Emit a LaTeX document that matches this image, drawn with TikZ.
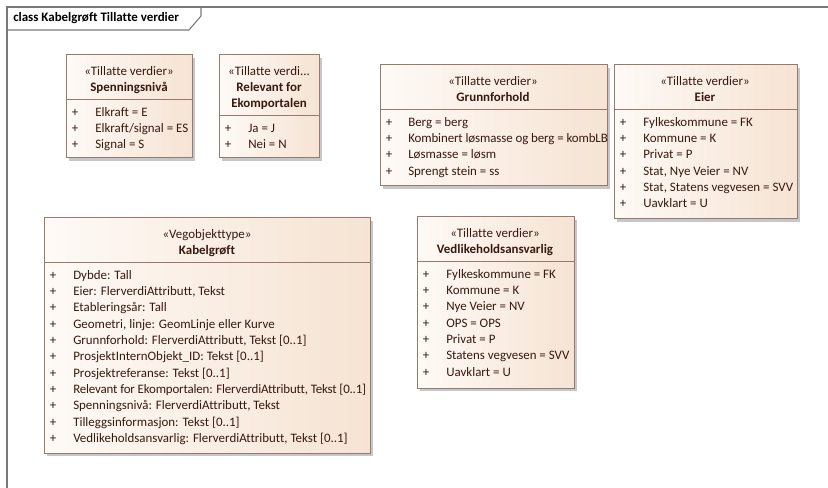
\documentclass[tikz,border=0pt]{standalone}
\usepackage{fontspec}
\setmainfont{Carlito}[Ligatures=NoCommon]
\usetikzlibrary{fit,shadows}
\definecolor{frameline}{RGB}{120,120,120}
\definecolor{boxline}{RGB}{150,122,112}
\definecolor{fillL}{RGB}{254,250,246}
\definecolor{fillR}{RGB}{246,227,211}
\definecolor{txt}{RGB}{55,25,15}
\tikzset{
  x=0.75pt, y=-0.75pt,
  framestroke/.style={draw=frameline, line width=1.1pt},
  tabstroke/.style={draw=frameline, line width=0.8pt},
  cls/.style={draw=boxline, line width=0.75pt, left color=fillL, right color=fillR,
    inner sep=0pt, drop shadow={shadow xshift=2.2pt, shadow yshift=-2.2pt, fill=black, opacity=0.22}},
  divline/.style={draw=boxline, line width=0.75pt},
  basetxt/.style={inner sep=0pt, text=txt, font=\fontsize{9.7}{12}\selectfont, text height=7pt, text depth=2pt},
  stereo/.style={basetxt},
  cname/.style={basetxt, font=\fontsize{9.7}{12}\selectfont\bfseries},
  mem/.style={basetxt, anchor=west},
  plussign/.style={basetxt},
  ttl/.style={inner sep=0pt, anchor=west, text=black, font=\fontsize{9.7}{12}\selectfont\bfseries}
}
\begin{document}
\begin{tikzpicture}
\useasboundingbox (0,0) rectangle (828,488);
% frame
\draw[framestroke] (7,488) -- (7,7) -- (828,7);
\draw[tabstroke] (7,30) -- (189,30) -- (201,16) -- (201,7);
\node[ttl] (title) at (13,18.5) {class Kabelgrøft Tillatte verdier};

% Spenningsnivå
\node[cls, fit={(66,55) (192,158)}] (spn) {};
\draw[divline] (spn.west |- 0,100) -- (spn.east |- 0,100);
\node[stereo] (spn-st) at (129,72) {«Tillatte verdier»};
\node[cname] (spn-nm) at (129,88) {Spenningsnivå};
\foreach \t [count=\i from 0] in {Elkraft = E, Elkraft/signal = ES, Signal = S}{
  \node[plussign] (spn-p\i) at (75,113+16.3*\i) {+};
  \node[mem] (spn-m\i) at (95,113+16.3*\i) {\t};
}

% Relevant for Ekomportalen
\node[cls, fit={(219,55) (319,158)}] (rel) {};
\draw[divline] (rel.west |- 0,116) -- (rel.east |- 0,116);
\node[stereo] (rel-st) at (269,72) {«Tillatte verdi...};
\node[cname] (rel-nm1) at (269,88) {Relevant for};
\node[cname] (rel-nm2) at (269,104) {Ekomportalen};
\foreach \t [count=\i from 0] in {Ja = J, Nei = N}{
  \node[plussign] (rel-p\i) at (228,129+16.3*\i) {+};
  \node[mem] (rel-m\i) at (248,129+16.3*\i) {\t};
}

% Grunnforhold
\node[cls, fit={(380,65) (607,186)}] (grf) {};
\draw[divline] (grf.west |- 0,110) -- (grf.east |- 0,110);
\node[stereo] (grf-st) at (493,82) {«Tillatte verdier»};
\node[cname] (grf-nm) at (493,98) {Grunnforhold};
\foreach \t [count=\i from 0] in {Berg = berg, {\addfontfeature{LetterSpace=-0.9}Kombinert løsmasse og berg = kombLB}, Løsmasse = løsm, Sprengt stein = ss}{
  \node[plussign] (grf-p\i) at (389,123+16.3*\i) {+};
  \node[mem] (grf-m\i) at (408,123+16.3*\i) {\t};
}

% Eier
\node[cls, fit={(614,65) (797,219)}] (eier) {};
\draw[divline] (eier.west |- 0,110) -- (eier.east |- 0,110);
\node[stereo] (eier-st) at (705,82) {«Tillatte verdier»};
\node[cname] (eier-nm) at (705,98) {Eier};
\foreach \t [count=\i from 0] in {Fylkeskommune = FK, Kommune = K, Privat = P, {Stat, Nye Veier = NV}, {Stat, Statens vegvesen = SVV}, Uavklart = U}{
  \node[plussign] (eier-p\i) at (623,123+16.3*\i) {+};
  \node[mem] (eier-m\i) at (643,123+16.3*\i) {\t};
}

% Kabelgrøft
\node[cls, fit={(44,218) (370,453)}] (kab) {};
\draw[divline] (kab.west |- 0,263) -- (kab.east |- 0,263);
\node[stereo] (kab-st) at (207,235) {«Vegobjekttype»};
\node[cname] (kab-nm) at (207,251) {Kabelgrøft};
\foreach \t [count=\i from 0] in {Dybde: Tall, {Eier: FlerverdiAttributt, Tekst}, Etableringsår: Tall, {Geometri, linje: GeomLinje eller Kurve}, {Grunnforhold: FlerverdiAttributt, Tekst [0..1]}, ProsjektInternObjekt\_ID: Tekst [0..1], Prosjektreferanse: Tekst [0..1], {\addfontfeature{LetterSpace=-1.3}Relevant for Ekomportalen: FlerverdiAttributt, Tekst [0..1]}, {Spenningsnivå: FlerverdiAttributt, Tekst}, Tilleggsinformasjon: Tekst [0..1], {Vedlikeholdsansvarlig: FlerverdiAttributt, Tekst [0..1]}}{
  \node[plussign] (kab-p\i) at (53,276+16.3*\i) {+};
  \node[mem] (kab-m\i) at (73,276+16.3*\i) {\t};
}

% Vedlikeholdsansvarlig
\node[cls, fit={(417,217) (574,388)}] (ved) {};
\draw[divline] (ved.west |- 0,262) -- (ved.east |- 0,262);
\node[stereo] (ved-st) at (495,234) {«Tillatte verdier»};
\node[cname] (ved-nm) at (495,250) {Vedlikeholdsansvarlig};
\foreach \t [count=\i from 0] in {Fylkeskommune = FK, Kommune = K, Nye Veier = NV, OPS = OPS, Privat = P, Statens vegvesen = SVV, Uavklart = U}{
  \node[plussign] (ved-p\i) at (426,275+16.3*\i) {+};
  \node[mem] (ved-m\i) at (446,275+16.3*\i) {\t};
}
\end{tikzpicture}
\end{document}
